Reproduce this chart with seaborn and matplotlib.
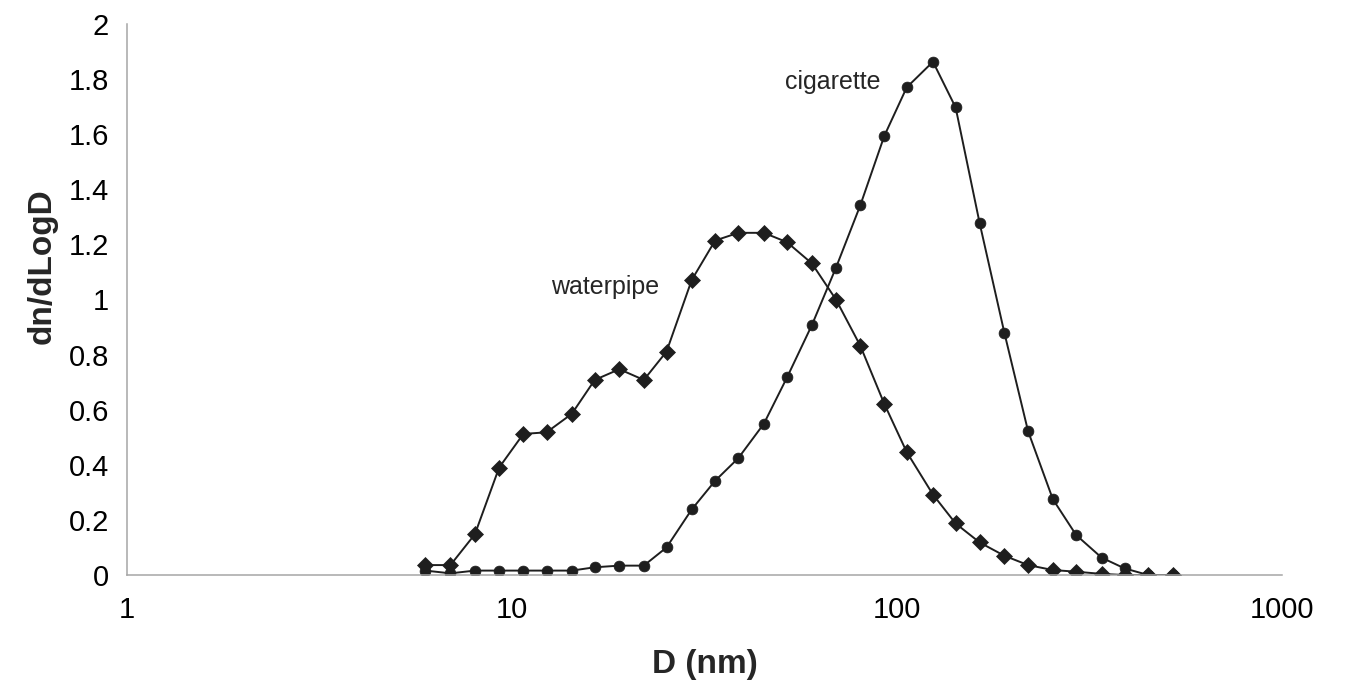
import matplotlib
matplotlib.use("Agg")
import matplotlib.pyplot as plt
import matplotlib.ticker as mticker
import numpy as np
import pandas as pd
import seaborn as sns

# Particle diameter bins (nm)
diameter = [5.96, 6.92, 8.01, 9.26, 10.7, 12.3, 14.3, 16.4, 19.0, 22.0,
            25.2, 29.3, 33.7, 38.7, 45.1, 51.8, 60.1, 69.4, 80.3, 92.7,
            106, 124, 142, 164, 190, 219, 254, 292, 340, 390, 449, 522]

waterpipe = [0.036, 0.036, 0.148, 0.39, 0.512, 0.518, 0.585, 0.708, 0.747, 0.708,
             0.811, 1.071, 1.214, 1.242, 1.242, 1.208, 1.131, 1.0, 0.832, 0.621,
             0.446, 0.292, 0.187, 0.118, 0.070, 0.036, 0.018, 0.012, 0.004, 0.0,
             0.0, 0.0]

cigarette = [0.016, 0.006, 0.016, 0.016, 0.016, 0.016, 0.016, 0.028, 0.034, 0.034,
             0.100, 0.238, 0.342, 0.424, 0.549, 0.717, 0.907, 1.115, 1.342, 1.594,
             1.770, 1.863, 1.697, 1.276, 0.880, 0.522, 0.275, 0.145, 0.063, 0.024,
             0.0, 0.0]

series_names = ["waterpipe", "cigarette"]
x_ticks = [1, 10, 100, 1000]
y_ticks = [0, 0.2, 0.4, 0.6, 0.8, 1.0, 1.2, 1.4, 1.6, 1.8, 2.0]

df = pd.concat([
    pd.DataFrame({"D": diameter, "val": waterpipe, "series": "waterpipe"}),
    pd.DataFrame({"D": diameter, "val": cigarette, "series": "cigarette"}),
], ignore_index=True)

sns.set_style("white")
plt.rcParams["font.family"] = ["Liberation Sans", "DejaVu Sans"]

fig = plt.figure(figsize=(13.47, 6.87), dpi=100)
ax = fig.add_axes([127 / 1347, 1 - 575 / 687, (1282 - 127) / 1347, (575 - 24) / 687])

line_color = "#1e1e1e"
sns.lineplot(data=df, x="D", y="val", style="series", style_order=series_names,
             markers={"waterpipe": "D", "cigarette": "o"}, dashes=False,
             color=line_color, linewidth=1.4, markersize=7.8,
             markeredgecolor=line_color, markeredgewidth=0.5,
             legend=False, ax=ax)

ax.set_xscale("log")
ax.set_xlim(1, 1000)
ax.set_ylim(0, 2)
ax.set_xticks(x_ticks)
ax.xaxis.set_major_formatter(mticker.FuncFormatter(lambda v, p: f"{v:g}"))
ax.xaxis.set_minor_locator(mticker.NullLocator())
ax.set_yticks(y_ticks)
ax.yaxis.set_major_formatter(mticker.FuncFormatter(lambda v, p: f"{v:g}"))

spine_color = "#a6a6a6"
for s in ["top", "right"]:
    ax.spines[s].set_visible(False)
for s in ["left", "bottom"]:
    ax.spines[s].set_color(spine_color)
    ax.spines[s].set_linewidth(1.1)

ax.tick_params(axis="both", which="major", direction="out", length=6, width=1.1,
               color=spine_color, labelsize=21, labelcolor="#000000")
ax.tick_params(axis="y", pad=7)
ax.tick_params(axis="x", pad=8, length=7)
ax.grid(False)

ax.set_xlabel("D (nm)", fontsize=24, fontweight="bold", labelpad=18)
ax.set_ylabel("dn/dLogD", fontsize=24, fontweight="bold")
ax.yaxis.set_label_coords(-0.060, 0.56)

ax.text(12.6, 1.045, "waterpipe", fontsize=18, ha="left", va="center")
ax.text(51.1, 1.79, "cigarette", fontsize=18, ha="left", va="center")

fig.savefig("out.png", dpi=100, facecolor="white")
